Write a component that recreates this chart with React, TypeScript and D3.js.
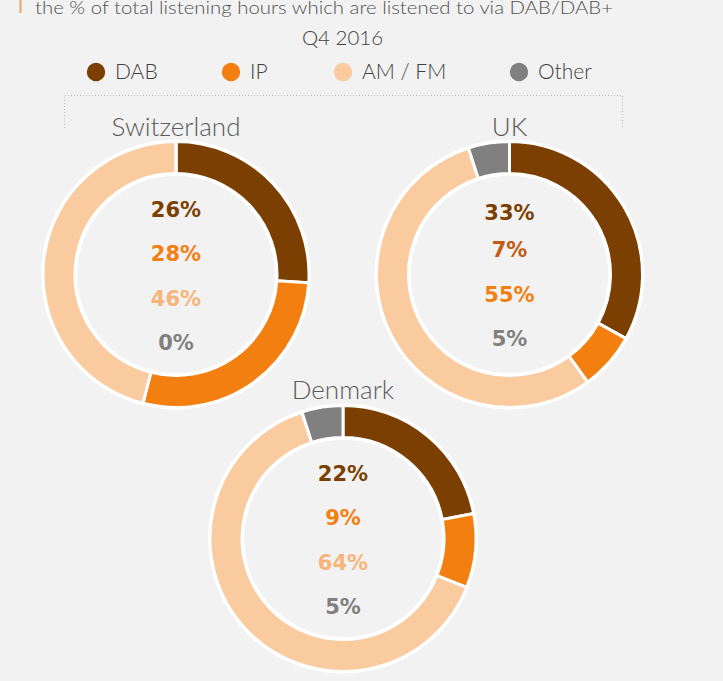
import React from "react";
import * as d3 from "d3";

const categories = ["DAB", "IP", "AM / FM", "Other"];
const countries = ["Switzerland", "UK", "Denmark"];
const switzerlandValues = [26, 28, 46, 0];
const ukValues = [33, 7, 55, 5];
const denmarkValues = [22, 9, 64, 5];
const titleText = "the % of total listening hours which are listened to via DAB/DAB+";
const subtitleText = "Q4 2016";

const seriesValues = [switzerlandValues, ukValues, denmarkValues];

// styles
const sliceColors = ["#7b3f02", "#f47f11", "#fbcba0", "#808080"];
const labelColors = ["#7b3f02", "#f47f11", "#f8b47a", "#808080"];
const ukLabelColors = ["#7b3f02", "#c55a11", "#f47f11", "#808080"];
const centers = [
  { x: 176, y: 274.5, labelY: 136 },
  { x: 509.5, y: 274.5, labelY: 136 },
  { x: 343, y: 538.5, labelY: 399 },
];
const labelOffsets = [-65, -21, 24, 68];
const ukLabelOffsets = [-62, -25, 20, 64];
const legendX = [96, 231, 343, 519];

export default function App() {
  const outerR = 133;
  const innerR = 101;
  const pie = d3.pie<number>().sort(null).value((d) => d);
  const arc = d3.arc<d3.PieArcDatum<number>>().innerRadius(innerR).outerRadius(outerR);

  return (
    <svg
      width={723}
      height={681}
      style={{ position: "absolute", left: 0, top: 0, background: "#f2f2f2" }}
    >
      <rect x={0} y={0} width={723} height={681} fill="#f2f2f2" />
      <rect x={19.5} y={0} width={2} height={13} fill="#e8a66b" />
      <text
        x={35}
        y={14}
        fontFamily="Lato, 'Open Sans', sans-serif"
        fontWeight={300}
        fontSize={18}
        fill="#505050"
        textLength={578}
        lengthAdjust="spacingAndGlyphs"
      >
        {titleText}
      </text>
      <text
        x={342.5}
        y={44.5}
        textAnchor="middle"
        fontFamily="Lato, 'Open Sans', sans-serif"
        fontWeight={300}
        fontSize={20.5}
        fill="#404040"
      >
        {subtitleText}
      </text>
      {categories.map((c, i) => (
        <g key={c}>
          <circle cx={legendX[i]} cy={72} r={9.2} fill={sliceColors[i]} />
          <text
            x={legendX[i] + 19}
            y={79}
            fontFamily="Lato, 'Open Sans', sans-serif"
            fontWeight={300}
            fontSize={21}
            fill="#404040"
          >
            {c}
          </text>
        </g>
      ))}
      <path
        d="M64.5,128 V95.5 H622.5 V128"
        fill="none"
        stroke="#bdbdbd"
        strokeWidth={1}
        strokeDasharray="1,2"
      />
      {countries.map((country, ci) => {
        const ctr = centers[ci];
        const arcs = pie(seriesValues[ci]);
        const lc = country === "UK" ? ukLabelColors : labelColors;
        const lo = country === "UK" ? ukLabelOffsets : labelOffsets;
        return (
          <g key={country}>
            <g transform={`translate(${ctr.x},${ctr.y})`}>
              {arcs.map((a, i) => (
                <path
                  key={i}
                  d={arc(a) || ""}
                  fill={sliceColors[i]}
                  stroke="#ffffff"
                  strokeWidth={3}
                  strokeLinejoin="miter"
                />
              ))}
              <circle r={outerR + 1} fill="none" stroke="#ffffff" strokeWidth={2} />
              <circle r={innerR - 1} fill="none" stroke="#ffffff" strokeWidth={2.5} />
              {seriesValues[ci].map((v, i) => (
                <text
                  key={i}
                  x={0}
                  y={lo[i]}
                  dy="0.36em"
                  textAnchor="middle"
                  fontFamily="'DejaVu Sans', sans-serif"
                  fontWeight="bold"
                  fontSize={21}
                  fill={lc[i]}
                >
                  {v}%
                </text>
              ))}
            </g>
            <text
              x={ctr.x}
              y={ctr.labelY}
              textAnchor="middle"
              fontFamily="Lato, 'Open Sans', sans-serif"
              fontWeight={300}
              fontSize={26}
              fill="#595959"
            >
              {country}
            </text>
          </g>
        );
      })}
    </svg>
  );
}
